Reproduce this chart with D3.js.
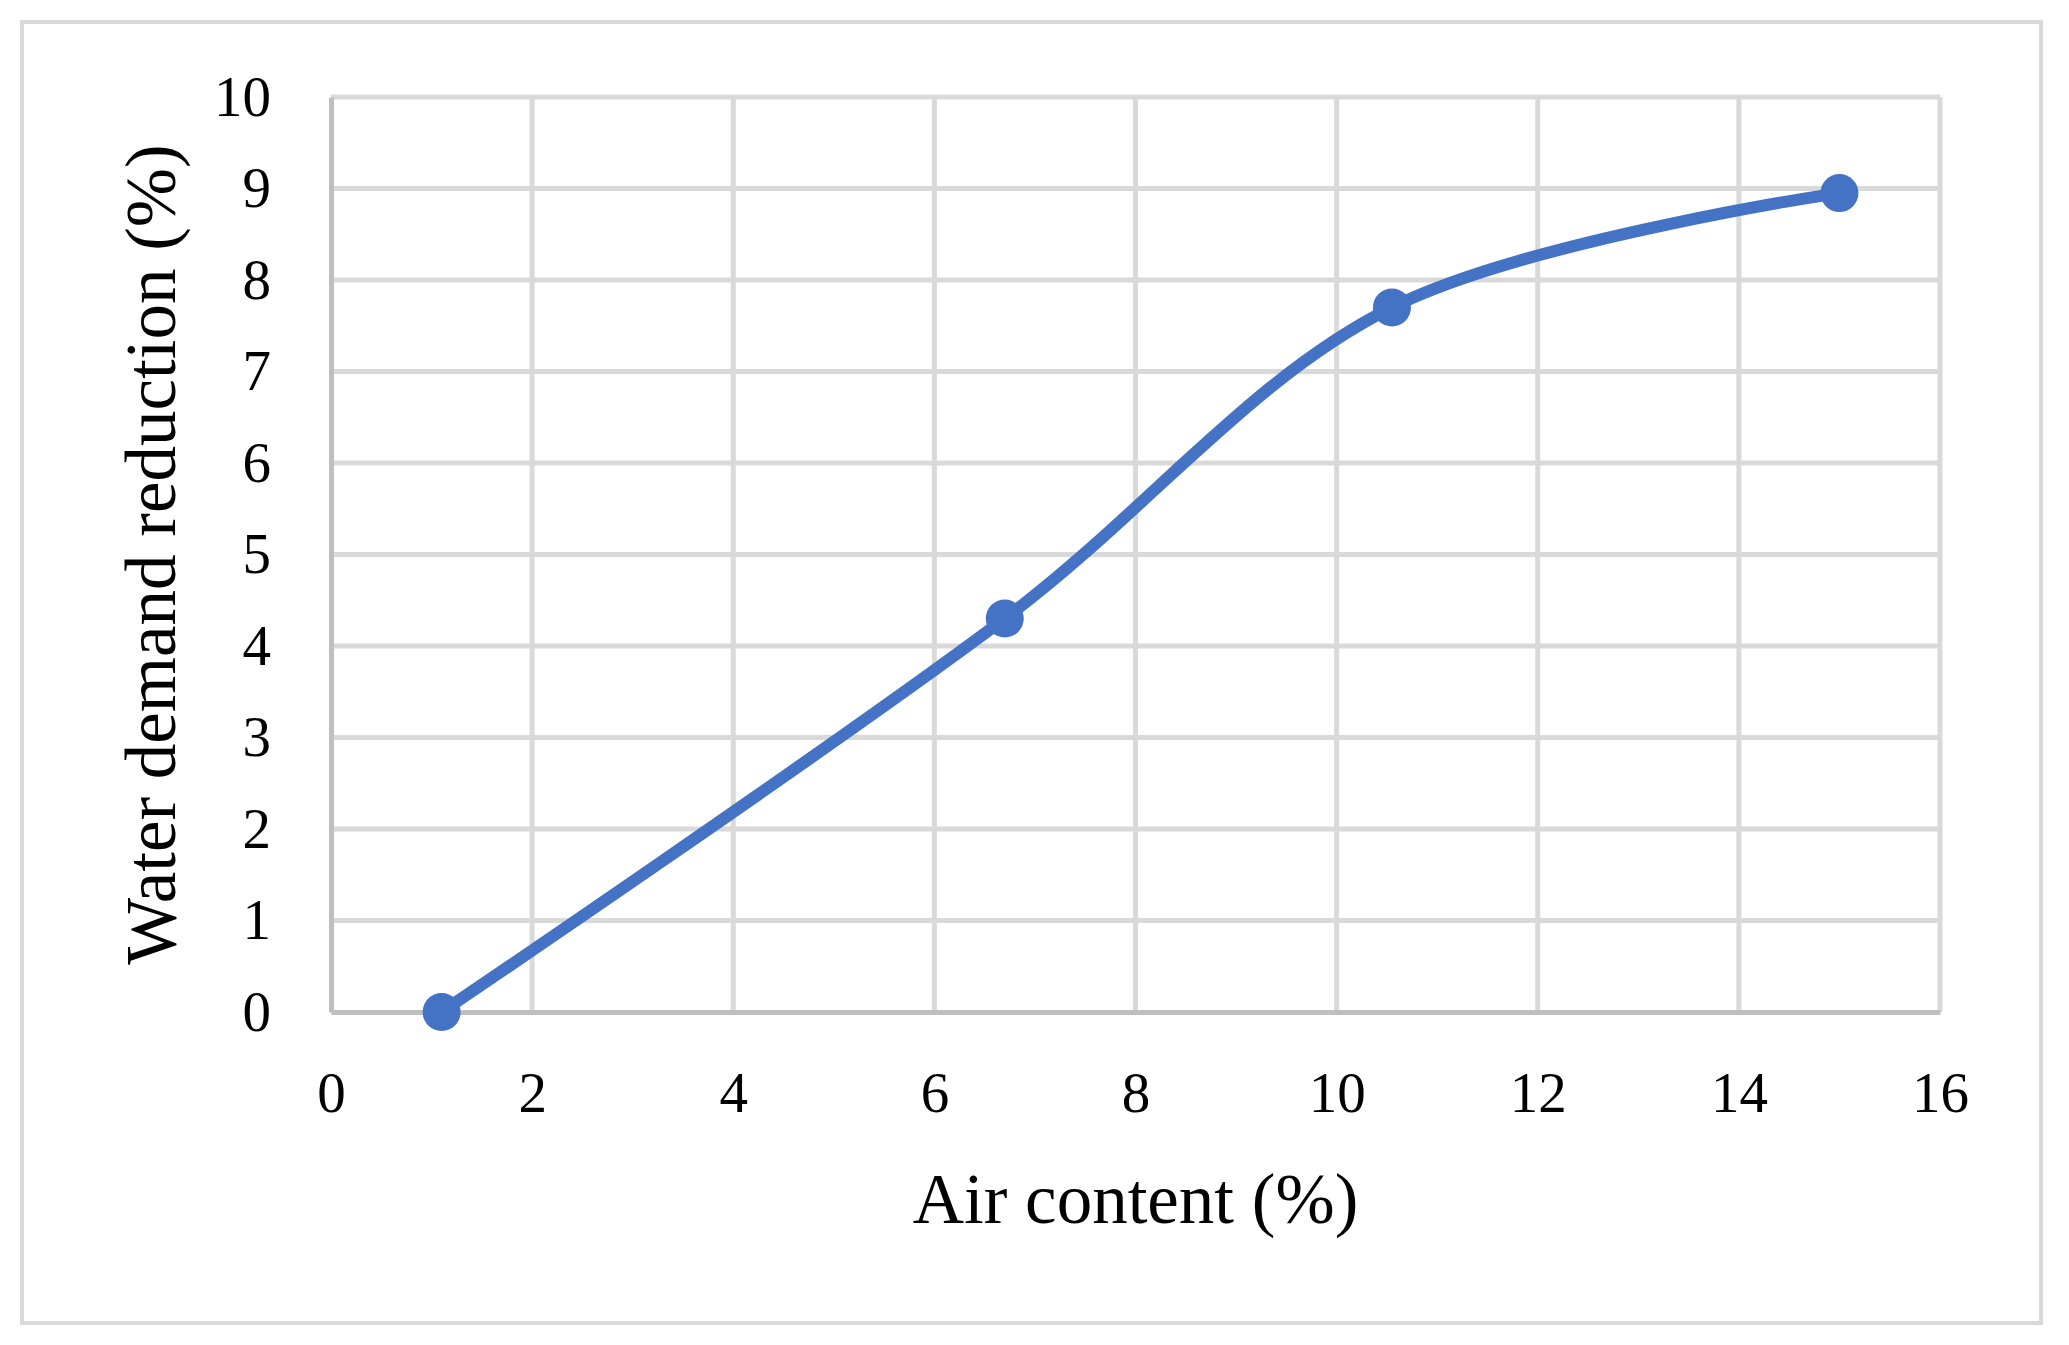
<!DOCTYPE html>
<html>
<head>
<meta charset="utf-8">
<script src="https://cdn.jsdelivr.net/npm/d3@7"></script>
<style>
  body { margin: 0; background: #fff; }
  svg text { font-family: "Liberation Serif", "DejaVu Serif", serif; fill: #000; }
</style>
</head>
<body>
<div id="chart"></div>
<script>
// data
const airContent = [1.1, 6.7, 10.55, 15];
const waterReduction = [0, 4.3, 7.7, 8.95];
const xTicks = [0, 2, 4, 6, 8, 10, 12, 14, 16];
const yTicks = [0, 1, 2, 3, 4, 5, 6, 7, 8, 9, 10];

const width = 2069, height = 1345;
const margin = { top: 97, right: 129, bottom: 333, left: 331 };

const svg = d3.select("#chart").append("svg")
    .attr("width", width)
    .attr("height", height);

// outer frame
svg.append("rect")
    .attr("x", 22).attr("y", 22)
    .attr("width", 2019).attr("height", 1301)
    .attr("fill", "none")
    .attr("stroke", "#d9d9d9")
    .attr("stroke-width", 4);

const x = d3.scaleLinear().domain([0, 16]).range([margin.left, width - margin.right]);
const y = d3.scaleLinear().domain([0, 10]).range([height - margin.bottom, margin.top]);

// grid
const grid = svg.append("g");
grid.selectAll(".vgrid")
    .data(xTicks.filter(d => d > 0))
    .enter().append("line")
    .attr("x1", d => x(d)).attr("x2", d => x(d))
    .attr("y1", y(0)).attr("y2", y(10))
    .attr("stroke", "#d9d9d9")
    .attr("stroke-width", 5);
grid.selectAll(".hgrid")
    .data(yTicks.filter(d => d > 0))
    .enter().append("line")
    .attr("x1", x(0)).attr("x2", x(16))
    .attr("y1", d => y(d)).attr("y2", d => y(d))
    .attr("stroke", "#d9d9d9")
    .attr("stroke-width", 5);

// axes (no ticks, just line + labels)
const xAxis = svg.append("g")
    .attr("transform", `translate(0,${y(0)})`)
    .call(d3.axisBottom(x).tickValues(xTicks).tickSize(0).tickPadding(60).tickFormat(d3.format("d")));
xAxis.select(".domain").attr("stroke", "#bfbfbf").attr("stroke-width", 5);
xAxis.selectAll("text").attr("font-size", 57).attr("font-family", "Liberation Serif");

const yAxis = svg.append("g")
    .attr("transform", `translate(${x(0)},0)`)
    .call(d3.axisLeft(y).tickValues(yTicks).tickSize(0).tickPadding(60).tickFormat(d3.format("d")));
yAxis.select(".domain").attr("stroke", "#bfbfbf").attr("stroke-width", 5);
yAxis.selectAll("text").attr("font-size", 57).attr("font-family", "Liberation Serif");

// axis titles
svg.append("text")
    .attr("x", (x(0) + x(16)) / 2)
    .attr("y", 1223)
    .attr("text-anchor", "middle")
    .attr("font-size", 71)
    .text("Air content (%)");

svg.append("text")
    .attr("transform", `translate(175,${(y(0) + y(10)) / 2}) rotate(-90)`)
    .attr("text-anchor", "middle")
    .attr("font-size", 71)
    .text("Water demand reduction (%)");

// series
const points = airContent.map((d, i) => [d, waterReduction[i]]);
const line = d3.line()
    .x(d => x(d[0]))
    .y(d => y(d[1]))
    .curve(d3.curveCatmullRom.alpha(0.5));

svg.append("path")
    .datum(points)
    .attr("d", line)
    .attr("fill", "none")
    .attr("stroke", "#4472c4")
    .attr("stroke-width", 12)
    .attr("stroke-linecap", "round");

svg.selectAll(".pt")
    .data(points)
    .enter().append("circle")
    .attr("cx", d => x(d[0]))
    .attr("cy", d => y(d[1]))
    .attr("r", 19)
    .attr("fill", "#4472c4");
</script>
</body>
</html>
